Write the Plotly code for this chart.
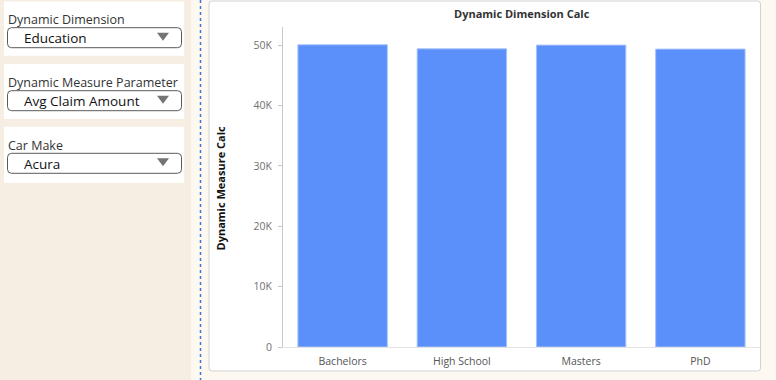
import plotly.graph_objects as go

# ---- data ----
categories = ["Bachelors", "High School", "Masters", "PhD"]
avg_claim = [50060, 49390, 50000, 49340]
y_ticks = [0, 10000, 20000, 30000, 40000, 50000]
y_tick_labels = ["0", "10K", "20K", "30K", "40K", "50K"]
chart_title = "Dynamic Dimension Calc"
y_title = "Dynamic Measure Calc"
filter_labels = ["Dynamic Dimension", "Dynamic Measure Parameter", "Car Make"]
filter_values = ["Education", "Avg Claim Amount", "Acura"]

# ---- geometry (pixels) ----
W, H = 776, 380
L, R, T, B = 283, 16, 27, 33
PW, PH = W - L - R, H - T - B
FONT = "Open Sans, Noto Sans, sans-serif"


def px(x):
    return (x - L) / PW


def py(y):
    return (H - B - y) / PH


def rrect_path(x0, y0, x1, y1, r):
    pts = [
        f"M{px(x0 + r)},{py(y0)}",
        f"L{px(x1 - r)},{py(y0)}",
        f"Q{px(x1)},{py(y0)} {px(x1)},{py(y0 + r)}",
        f"L{px(x1)},{py(y1 - r)}",
        f"Q{px(x1)},{py(y1)} {px(x1 - r)},{py(y1)}",
        f"L{px(x0 + r)},{py(y1)}",
        f"Q{px(x0)},{py(y1)} {px(x0)},{py(y1 - r)}",
        f"L{px(x0)},{py(y0 + r)}",
        f"Q{px(x0)},{py(y0)} {px(x0 + r)},{py(y0)}",
        "Z",
    ]
    return " ".join(pts)


shapes = []
annotations = []

# left panel background
shapes.append(dict(type="rect", xref="paper", yref="paper", x0=px(0), x1=px(191),
                   y0=py(0), y1=py(H), fillcolor="#f7eee3", line=dict(width=0), layer="below"))

# filter cards
card_y = [(1.5, 55.7), (64, 119), (126.7, 182.7)]
dd_y = [27.7, 90.7, 153.3]
label_y = [19.3, 82.3, 145.7]
for i in range(3):
    cy0, cy1 = card_y[i]
    shapes.append(dict(type="rect", xref="paper", yref="paper", x0=px(4), x1=px(184),
                       y0=py(cy1), y1=py(cy0), fillcolor="white", line=dict(width=0), layer="below"))
    d0 = dd_y[i]
    shapes.append(dict(type="path", xref="paper", yref="paper",
                       path=rrect_path(7.5, d0, 181.5, d0 + 20, 4),
                       fillcolor="white", line=dict(color="#5a5a5a", width=1), layer="below"))
    tri = f"M{px(157)},{py(d0 + 5)} L{px(169)},{py(d0 + 5)} L{px(163)},{py(d0 + 13)} Z"
    shapes.append(dict(type="path", xref="paper", yref="paper", path=tri,
                       fillcolor="#747474", line=dict(width=0), layer="below"))
    annotations.append(dict(xref="paper", yref="paper", x=px(6), y=py(label_y[i]),
                            xanchor="left", yanchor="middle", showarrow=False,
                            text=filter_labels[i], font=dict(family=FONT, size=12.5, color="#333333")))
    annotations.append(dict(xref="paper", yref="paper", x=px(21.5), y=py(d0 + 10.5),
                            xanchor="left", yanchor="middle", showarrow=False,
                            text=filter_values[i], font=dict(family=FONT, size=13.5, color="#111111")))

# dotted separator
shapes.append(dict(type="line", xref="paper", yref="paper", x0=px(200.5), x1=px(200.5),
                   y0=py(0), y1=py(H), line=dict(color="#3b78d8", width=1.5, dash="3px,3px"),
                   layer="below"))

# chart card
shapes.append(dict(type="path", xref="paper", yref="paper",
                   path=rrect_path(209, 1, 760.5, 371, 3),
                   fillcolor="white", line=dict(color="#d3d3d3", width=1), layer="below"))

# chart title
annotations.append(dict(xref="paper", yref="paper", x=px(521.5), y=py(13),
                        xanchor="center", yanchor="middle", showarrow=False,
                        text=f"<b>{chart_title}</b>", font=dict(family=FONT, size=11, color="#333333")))
# y-axis title
annotations.append(dict(xref="paper", yref="paper", x=px(219.5), y=py(188),
                        xanchor="center", yanchor="middle", showarrow=False, textangle=-90,
                        text=f"<b>{y_title}</b>", font=dict(family=FONT, size=11, color="#111111")))

fig = go.Figure(go.Bar(
    x=categories, y=avg_claim,
    marker=dict(color="#5b8ff9", line=dict(color="#a8c3fb", width=1)),
    hoverinfo="skip",
))

fig.update_layout(
    width=W, height=H,
    margin=dict(l=L, r=R, t=T, b=B, pad=0),
    paper_bgcolor="#fdf9f1",
    plot_bgcolor="rgba(0,0,0,0)",
    bargap=0.25,
    showlegend=False,
    shapes=shapes,
    annotations=annotations,
    font=dict(family=FONT),
)
fig.update_xaxes(
    type="category", range=[-0.5, 3.5], showgrid=False, zeroline=False,
    showline=True, linecolor="#e3e3e3", linewidth=1,
    ticks="", tickfont=dict(family=FONT, size=10.5, color="#555555"),
    ticklabelstandoff=4,
)
fig.update_yaxes(
    range=[0, 53000], showgrid=False, zeroline=False,
    showline=True, linecolor="#c9c9c9", linewidth=1,
    tickvals=y_ticks, ticktext=y_tick_labels,
    ticks="outside", ticklen=4, tickcolor="#c9c9c9",
    tickfont=dict(family=FONT, size=10.5, color="#707070"),
    ticklabelstandoff=4,
)

fig.write_html("out.html", config={"displayModeBar": False},
               post_script="document.body.style.margin='0';")
